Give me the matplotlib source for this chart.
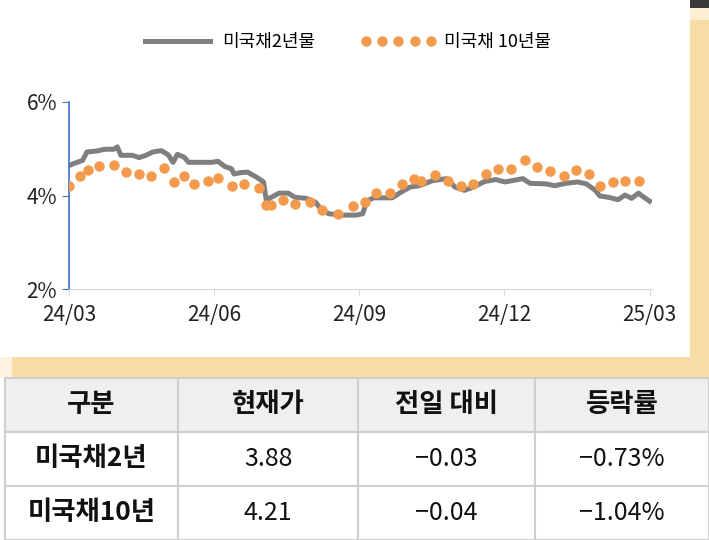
import matplotlib
matplotlib.use('Agg')
from matplotlib import pyplot as plt
from matplotlib.patches import Rectangle

plt.rcParams['font.family'] = ['Noto Sans CJK JP', 'Noto Sans CJK KR', 'DejaVu Sans']

# x in months since 24/03
x2 = [0.00, 0.09, 0.28, 0.37, 0.56, 0.75, 0.93, 1.00, 1.07, 1.31, 1.45, 1.59, 1.73, 1.91, 2.05,
      2.15, 2.24, 2.38, 2.47, 2.66, 2.94, 3.08, 3.22, 3.36, 3.41, 3.55, 3.69, 3.88, 4.02, 4.08,
      4.16, 4.34, 4.53, 4.67, 4.90, 5.09, 5.23, 5.37, 5.65, 5.93, 6.07, 6.16, 6.30, 6.68, 6.86,
      7.05, 7.24, 7.52, 7.80, 7.98, 8.17, 8.36, 8.59, 8.82, 9.01, 9.38, 9.53, 9.85, 10.04, 10.27,
      10.51, 10.69, 10.88, 10.97, 11.16, 11.35, 11.49, 11.63, 11.77, 11.86, 12.00]
y2 = [4.64, 4.68, 4.75, 4.93, 4.95, 4.99, 4.99, 5.04, 4.86, 4.86, 4.81, 4.86, 4.93, 4.96, 4.87,
      4.71, 4.88, 4.82, 4.71, 4.71, 4.71, 4.73, 4.62, 4.57, 4.46, 4.49, 4.50, 4.39, 4.29, 3.89,
      3.95, 4.05, 4.05, 3.96, 3.94, 3.86, 3.68, 3.61, 3.58, 3.58, 3.61, 3.89, 3.95, 3.95, 4.07,
      4.18, 4.21, 4.32, 4.36, 4.18, 4.11, 4.18, 4.30, 4.34, 4.29, 4.36, 4.26, 4.25, 4.21, 4.26,
      4.29, 4.25, 4.11, 3.99, 3.96, 3.91, 4.01, 3.94, 4.05, 3.98, 3.88]

x10 = [0.00, 0.23, 0.40, 0.61, 0.92, 1.17, 1.45, 1.70, 1.96, 2.17, 2.37, 2.59, 2.87, 3.09, 3.36,
       3.62, 3.93, 4.08, 4.17, 4.42, 4.67, 4.98, 5.23, 5.55, 5.86, 6.12, 6.35, 6.63, 6.89, 7.14,
       7.27, 7.56, 7.84, 8.11, 8.36, 8.61, 8.87, 9.13, 9.43, 9.68, 9.95, 10.24, 10.48, 10.74,
       10.97, 11.25, 11.49, 11.79]
y10 = [4.21, 4.41, 4.54, 4.63, 4.66, 4.50, 4.45, 4.41, 4.59, 4.29, 4.41, 4.24, 4.31, 4.37, 4.20,
       4.24, 4.16, 3.79, 3.79, 3.91, 3.81, 3.86, 3.69, 3.61, 3.78, 3.86, 4.06, 4.06, 4.24, 4.36,
       4.31, 4.44, 4.30, 4.21, 4.24, 4.46, 4.57, 4.57, 4.75, 4.62, 4.53, 4.42, 4.55, 4.45,
       4.21, 4.29, 4.31, 4.31]

xtick_pos = [0, 3, 6, 9, 12]
xtick_labels = ['24/03', '24/06', '24/09', '24/12', '25/03']

table_header = ['구분', '현재가', '전일 대비', '등락률']
table_rows = [['미국채2년', '3.88', '-0.03', '-0.73%'],
              ['미국채10년', '4.21', '-0.04', '-1.04%']]

W, H = 709, 540
fig = plt.figure(figsize=(7.09, 5.40), dpi=100)
fig.patch.set_facecolor('white')

def px_rect(x0, y0, x1, y1, **kw):
    fig.patches.append(Rectangle((x0 / W, 1 - y1 / H), (x1 - x0) / W, (y1 - y0) / H,
                                 transform=fig.transFigure, **kw))

# beige frame pieces
beige = '#f7dca3'
px_rect(690, 20, 709, 378, facecolor=beige, edgecolor='none', zorder=0)
px_rect(690, 8, 709, 20, facecolor='#fcefd6', edgecolor='none', zorder=0)
px_rect(690, 0, 709, 8, facecolor='#3a3a3a', edgecolor='none', zorder=0)
px_rect(0, 357, 709, 378, facecolor=beige, edgecolor='none', zorder=0)
px_rect(0, 357, 12, 378, facecolor='#fdf3e0', edgecolor='none', zorder=0)

ax = fig.add_axes([69 / W, 1 - 289 / H, 583 / W, 187 / H])
ax.set_facecolor('none')
ax.plot(x2, y2, color='#7f7f7f', linewidth=3.6, label='미국채2년물', zorder=2)
ax.plot(x10, y10, linestyle='none', marker='o', markersize=7.5, color='#f39a4c',
        markeredgecolor='none', label='미국채 10년물', zorder=3)
ax.set_xlim(0, 12.05)
ax.set_ylim(2, 6)
ax.set_yticks([2, 4, 6])
ax.set_yticklabels(['2%', '4%', '6%'])
ax.set_xticks(xtick_pos)
ax.set_xticklabels(xtick_labels)
for s in ['top', 'right']:
    ax.spines[s].set_visible(False)
ax.spines['left'].set_color('#4472c4')
ax.spines['left'].set_linewidth(1.2)
ax.spines['bottom'].set_color('#d9d9d9')
ax.tick_params(axis='y', colors='#4472c4', labelcolor='#222222', labelsize=15, length=5, direction='out')
ax.tick_params(axis='x', colors='#d9d9d9', labelcolor='#222222', labelsize=15, length=5, pad=6)

ax.legend(loc='center', bbox_to_anchor=(345 / W, 1 - 42 / H), bbox_transform=fig.transFigure,
          ncol=2, frameon=False, fontsize=13, handlelength=4.2, columnspacing=2.5,
          numpoints=5, handletextpad=0.4)

# table
cols = [5, 178, 358, 535, 709]
rows = [378, 432, 486, 540]
grid = '#cfcfcf'
for r in range(3):
    for c in range(4):
        fc = '#efefef' if r == 0 else 'white'
        px_rect(cols[c], rows[r], cols[c + 1], rows[r + 1], facecolor=fc, edgecolor=grid,
                linewidth=1.5, zorder=1)
for c, txt in enumerate(table_header):
    fig.text((cols[c] + cols[c + 1]) / 2 / W, 1 - (rows[0] + rows[1]) / 2 / H, txt,
             ha='center', va='center', fontsize=19, fontweight='bold', color='#111111')
for r, row in enumerate(table_rows):
    for c, txt in enumerate(row):
        fig.text((cols[c] + cols[c + 1]) / 2 / W, 1 - (rows[r + 1] + rows[r + 2]) / 2 / H,
                 txt.replace('-', '\u2212'), ha='center', va='center',
                 fontsize=19 if c == 0 else 18, fontweight='bold' if c == 0 else 'normal',
                 color='#111111')

fig.savefig('out.png', dpi=100)
